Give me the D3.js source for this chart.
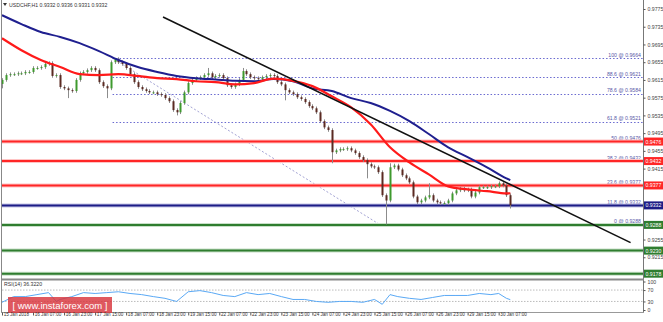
<!DOCTYPE html>
<html>
<head>
<meta charset="utf-8">
<script src="https://cdn.jsdelivr.net/npm/d3@7"></script>
<style>
  body { margin: 0; background: #fff; }
  svg { display: block; font-family: "Liberation Sans", Arial, sans-serif; }
</style>
</head>
<body>
<div id="wrapper"></div>
<script>
// 2-hour bars (close of each bar)
const closes = [
  0.9615, 0.9626, 0.9628, 0.9628, 0.9630, 0.9630, 0.9633, 0.9633, 0.9642, 0.9642,
  0.9644, 0.9651, 0.9653, 0.9624, 0.9626, 0.9599, 0.9596, 0.9592, 0.9590, 0.9615,
  0.9630, 0.9633, 0.9637, 0.9642, 0.9637, 0.9610, 0.9601, 0.9596, 0.9655, 0.9662,
  0.9655, 0.9651, 0.9642, 0.9628, 0.9610, 0.9599, 0.9594, 0.9590, 0.9587, 0.9587,
  0.9583, 0.9581, 0.9574, 0.9567, 0.9547, 0.9542, 0.9563, 0.9587, 0.9608, 0.9615,
  0.9619, 0.9621, 0.9626, 0.9630, 0.9621, 0.9624, 0.9626, 0.9619, 0.9603, 0.9599,
  0.9605, 0.9615, 0.9635, 0.9628, 0.9621, 0.9619, 0.9617, 0.9621, 0.9624, 0.9626,
  0.9624, 0.9610, 0.9605, 0.9592, 0.9587, 0.9583, 0.9576, 0.9572, 0.9565, 0.9556,
  0.9551, 0.9542, 0.9522, 0.9508, 0.9502, 0.9452, 0.9456, 0.9459, 0.9459, 0.9461,
  0.9456, 0.9450, 0.9441, 0.9434, 0.9425, 0.9420, 0.9418, 0.9407, 0.9355, 0.9343,
  0.9418, 0.9422, 0.9413, 0.9400, 0.9393, 0.9384, 0.9352, 0.9339, 0.9343, 0.9350,
  0.9355, 0.9343, 0.9339, 0.9337, 0.9337, 0.9343, 0.9359, 0.9366, 0.9370, 0.9366,
  0.9368, 0.9352, 0.9361, 0.9373, 0.9373, 0.9373, 0.9375, 0.9375, 0.9382, 0.9377,
  0.9355, 0.9332
]
const firstOpen = 0.9606

// visible long wicks [bar, price]
const wickHighs = [[29, 0.9664], [53, 0.9642], [62, 0.9642], [100, 0.9427], [110, 0.9382]]
const wickLows = [[0, 0.9596], [17, 0.9574], [27, 0.9574], [45, 0.9535], [73, 0.9569],
  [85, 0.9427], [94, 0.9393], [99, 0.9289], [131, 0.9325]]

// moving averages, read every 5 bars
const maBars = [0, 5, 10, 15, 20, 25, 30, 35, 40, 45, 50, 55, 60, 65, 70, 75, 80, 85, 90, 95, 100, 105, 110, 115, 120, 125, 130, 131]
const redMa = [0.9709, 0.9682, 0.9660, 0.9644, 0.9628, 0.9626, 0.9628, 0.9624, 0.9619, 0.9617,
  0.9612, 0.9610, 0.9605, 0.9608, 0.9618, 0.9613, 0.9601, 0.9578, 0.9553, 0.9515,
  0.9463, 0.9429, 0.9402, 0.9375, 0.9368, 0.9364, 0.9359, 0.9359]
const blueMa = [0.9761, 0.9741, 0.9723, 0.9712, 0.9698, 0.9680, 0.9660, 0.9644, 0.9633, 0.9624,
  0.9619, 0.9616, 0.9613, 0.9612, 0.9617, 0.9612, 0.9596, 0.9590, 0.9574, 0.9563,
  0.9545, 0.9522, 0.9493, 0.9463, 0.9441, 0.9418, 0.9393, 0.9389]

// RSI(14)
const rsiBars = [0, 3, 6, 9, 12, 14, 15, 18, 21, 24, 27, 30, 33, 36, 39, 42, 45, 48, 51, 54, 57, 60, 63, 66, 69, 72,
  75, 78, 81, 84, 87, 90, 93, 96, 98, 100, 102, 105, 108, 111, 114, 117, 120, 123, 126, 128, 130, 131]
const rsiValues = [27, 47, 47, 54, 61, 30, 37, 47, 61, 58, 61, 64, 58, 54, 47, 41, 30, 64, 68, 61, 51, 47, 61, 54, 58, 47,
  37, 37, 30, 27, 30, 30, 27, 37, 20, 54, 47, 41, 37, 44, 51, 51, 51, 58, 54, 58, 41, 36.3]
const rsiTicks = [100, 70, 30, 0]

// fibonacci retracement
const fibLevels = ["100", "88.6", "78.6", "61.8", "50", "38.2", "23.6", "11.8", "0"]
const fibPrices = [0.9664, 0.9621, 0.9584, 0.9521, 0.9476, 0.9432, 0.9377, 0.9332, 0.9288]
const fibAnchorBars = [28.5, 97.5]

// horizontal levels
const redLevels = [0.9476, 0.9432, 0.9377]
const blueLevels = [0.9332]
const greenLevels = [0.9288, 0.9230, 0.9178]

// trend line [hour, price]
const trendStart = [83, 0.9757]
const trendEnd = [324, 0.9248]

// labels covered by the price boxes are left out
const priceTicks = [0.9775, 0.9735, 0.9695, 0.9655, 0.9615, 0.9575, 0.9535, 0.9495, 0.9455,
  0.9415, 0.9255, 0.9215]
const timeLabels = ["15 Jan 2018", "16 Jan 07:00", "16 Jan 23:00", "17 Jan 15:00", "18 Jan 07:00",
  "18 Jan 23:00", "19 Jan 15:00", "22 Jan 07:00", "22 Jan 23:00", "23 Jan 15:00", "24 Jan 07:00",
  "24 Jan 23:00", "25 Jan 15:00", "26 Jan 07:00", "26 Jan 23:00", "29 Jan 15:00", "30 Jan 07:00"]

const width = 663, height = 322
const plotRight = 643
const mainBottom = 278

const svg = d3.select("#wrapper").append("svg")
  .attr("width", width).attr("height", height)

const xScale = d3.scaleLinear().domain([0, 330.4]).range([2, plotRight])
const yScale = d3.scaleLinear().domain([0.9775, 0.9175]).range([9, 275])
const rsiScale = d3.scaleLinear().domain([0, 100]).range([310, 281.5])
const barX = k => xScale(k * 2)

const main = svg.append("g")
main.append("clipPath").attr("id", "clipMain")
  .append("rect").attr("x", 1).attr("y", 0).attr("width", plotRight - 1).attr("height", mainBottom)
const plot = main.append("g").attr("clip-path", "url(#clipMain)")

// fib dotted lines (start at the 100 anchor)
const fibG = plot.append("g")
fibPrices.forEach((p, i) => {
  fibG.append("line")
    .attr("x1", barX(fibAnchorBars[0])).attr("x2", plotRight)
    .attr("y1", Math.round(yScale(p)) + 0.5).attr("y2", Math.round(yScale(p)) + 0.5)
    .attr("stroke", "#6a6ad0").attr("stroke-width", 1).attr("stroke-dasharray", "1.5,2")
  fibG.append("text")
    .attr("x", plotRight - 2).attr("y", yScale(p) - 1.5)
    .attr("text-anchor", "end").attr("font-size", 5.2).attr("fill", "#5a5aa8")
    .text(`${fibLevels[i]} @ ${p.toFixed(4)}`)
})
// fib diagonal
plot.append("line")
  .attr("x1", barX(fibAnchorBars[0])).attr("y1", yScale(fibPrices[0]))
  .attr("x2", barX(fibAnchorBars[1])).attr("y2", yScale(fibPrices[8]))
  .attr("stroke", "#8a8ac8").attr("stroke-width", 0.8).attr("stroke-dasharray", "2,2")

// horizontal levels
function level(p, color, halo, w) {
  const y = yScale(p)
  plot.append("line").attr("x1", 1).attr("x2", plotRight).attr("y1", y).attr("y2", y)
    .attr("stroke", halo).attr("stroke-width", w + 2)
  plot.append("line").attr("x1", 1).attr("x2", plotRight).attr("y1", y).attr("y2", y)
    .attr("stroke", color).attr("stroke-width", w)
}
redLevels.forEach(p => level(p, "#ff2626", "#ffc4c4", 2))
blueLevels.forEach(p => level(p, "#1c1c86", "#c4c4e6", 2))
greenLevels.forEach(p => level(p, "#2f7d2f", "#c8e0c8", 2))

// candles
const bars = closes.map((c, k) => {
  const o = k === 0 ? firstOpen : closes[k - 1]
  let hi = Math.max(o, c) + 0.0004, lo = Math.min(o, c) - 0.0004
  wickHighs.forEach(([b, v]) => { if (b === k) hi = v })
  wickLows.forEach(([b, v]) => { if (b === k) lo = v })
  return { k, o, c, hi, lo }
})
const candleG = plot.append("g")
candleG.selectAll(".wick").data(bars).join("line")
  .attr("x1", d => Math.round(barX(d.k)) + 0.5).attr("x2", d => Math.round(barX(d.k)) + 0.5)
  .attr("y1", d => yScale(d.hi)).attr("y2", d => yScale(d.lo))
  .attr("stroke", "#8c8c8c").attr("stroke-width", 1)
candleG.selectAll(".body").data(bars).join("rect")
  .attr("x", d => Math.round(barX(d.k)) - 0.5).attr("width", 2)
  .attr("y", d => yScale(Math.max(d.o, d.c)))
  .attr("height", d => Math.max(1, Math.abs(yScale(d.o) - yScale(d.c))))
  .attr("fill", d => d.c >= d.o ? "#3f9a2e" : "#5b2a22")

// moving averages
const maLine = vals => d3.line()
  .x((d, i) => barX(maBars[i])).y(d => yScale(d))
  .curve(d3.curveMonotoneX)(vals)
plot.append("path").attr("d", maLine(blueMa))
  .attr("fill", "none").attr("stroke", "#1f1f8f").attr("stroke-width", 2)
plot.append("path").attr("d", maLine(redMa))
  .attr("fill", "none").attr("stroke", "#ff1a1a").attr("stroke-width", 2.2)

// trend line
plot.append("line")
  .attr("x1", xScale(trendStart[0])).attr("y1", yScale(trendStart[1]))
  .attr("x2", xScale(trendEnd[0])).attr("y2", yScale(trendEnd[1]))
  .attr("stroke", "#111").attr("stroke-width", 1.6)

// frame
svg.append("line").attr("x1", 1.5).attr("x2", 1.5).attr("y1", 0).attr("y2", 312)
  .attr("stroke", "#888")
svg.append("line").attr("x1", plotRight + 0.5).attr("x2", plotRight + 0.5).attr("y1", 0).attr("y2", 312)
  .attr("stroke", "#777")
svg.append("line").attr("x1", 1).attr("x2", plotRight + 1).attr("y1", 279.5).attr("y2", 279.5)
  .attr("stroke", "#8a8a8a").attr("stroke-width", 2)
svg.append("line").attr("x1", 1).attr("x2", plotRight + 1).attr("y1", 312.5).attr("y2", 312.5)
  .attr("stroke", "#999")

// price axis
const yAxis = svg.append("g")
  .attr("transform", `translate(${plotRight + 0.5},0)`)
  .call(d3.axisRight(yScale).tickValues(priceTicks).tickFormat(d3.format(".4f")).tickSize(2).tickPadding(2))
yAxis.select(".domain").remove()
yAxis.selectAll("text").attr("font-size", 5.2).attr("fill", "#444").attr("font-family", "Liberation Sans, Arial")
yAxis.selectAll("line").attr("stroke", "#555")

// price boxes
const boxes = [
  ...redLevels.map(p => ({ p, fill: "#ff2626" })),
  ...blueLevels.map(p => ({ p, fill: "#1c1c86" })),
  ...greenLevels.map(p => ({ p, fill: "#2f7d2f" }))
]
const boxG = svg.append("g")
boxes.forEach(b => {
  const y = yScale(b.p)
  boxG.append("rect").attr("x", plotRight + 1).attr("y", y - 4).attr("width", 19).attr("height", 8)
    .attr("fill", b.fill)
  boxG.append("text").attr("x", plotRight + 2.5).attr("y", y + 2)
    .attr("font-size", 5.2).attr("fill", "#fff").text(b.p.toFixed(4))
})

// title
svg.append("path").attr("d", "M3,3 L7,3 L5,6 Z").attr("fill", "#333")
svg.append("text").attr("x", 9).attr("y", 7).attr("font-size", 5.2).attr("fill", "#333")
  .text("USDCHF,H1  0.9332 0.9336 0.9331 0.9332")

// RSI panel
const rsiG = svg.append("g")
rsiG.selectAll(".lvl").data([70, 30]).join("line")
  .attr("x1", 2).attr("x2", plotRight).attr("y1", d => rsiScale(d)).attr("y2", d => rsiScale(d))
  .attr("stroke", "#aaa").attr("stroke-width", 0.8).attr("stroke-dasharray", "1.5,1.5")
rsiG.append("path")
  .attr("d", d3.line().x((d, i) => barX(rsiBars[i])).y(d => rsiScale(d))(rsiValues))
  .attr("fill", "none").attr("stroke", "#5aa9f5").attr("stroke-width", 1)
rsiG.append("text").attr("x", 4).attr("y", 286).attr("font-size", 5.2).attr("fill", "#333")
  .text("RSI(14) 36.3220")
const rsiAxis = svg.append("g")
  .attr("transform", `translate(${plotRight + 0.5},0)`)
  .call(d3.axisRight(rsiScale).tickValues(rsiTicks).tickSize(2).tickPadding(2))
rsiAxis.select(".domain").remove()
rsiAxis.selectAll("text").attr("font-size", 5.2).attr("fill", "#444").attr("font-family", "Liberation Sans, Arial")
rsiAxis.selectAll("line").attr("stroke", "#555")

// watermark
const wm = svg.append("g")
wm.append("rect").attr("x", 8).attr("y", 297).attr("width", 104).attr("height", 16)
  .attr("fill", "#d8343c").attr("opacity", 0.82)
wm.append("text").attr("x", 60).attr("y", 308.5).attr("text-anchor", "middle")
  .attr("font-size", 9.5).attr("fill", "#fff")
  .text("[ www.instaforex.com ]")

// time axis
const xAxis = svg.append("g")
  .attr("transform", "translate(0,312.5)")
  .call(d3.axisBottom(xScale)
    .tickValues(timeLabels.map((t, i) => i * 16))
    .tickFormat((d, i) => timeLabels[i]).tickSize(3).tickPadding(1))
xAxis.select(".domain").remove()
xAxis.selectAll("line").attr("stroke", "#555")
xAxis.selectAll("text").attr("text-anchor", "start").attr("dx", 1.2).attr("dy", "-0.1em")
  .attr("font-size", 4.6).attr("fill", "#333").attr("font-family", "Liberation Sans, Arial")
</script>
</body>
</html>
